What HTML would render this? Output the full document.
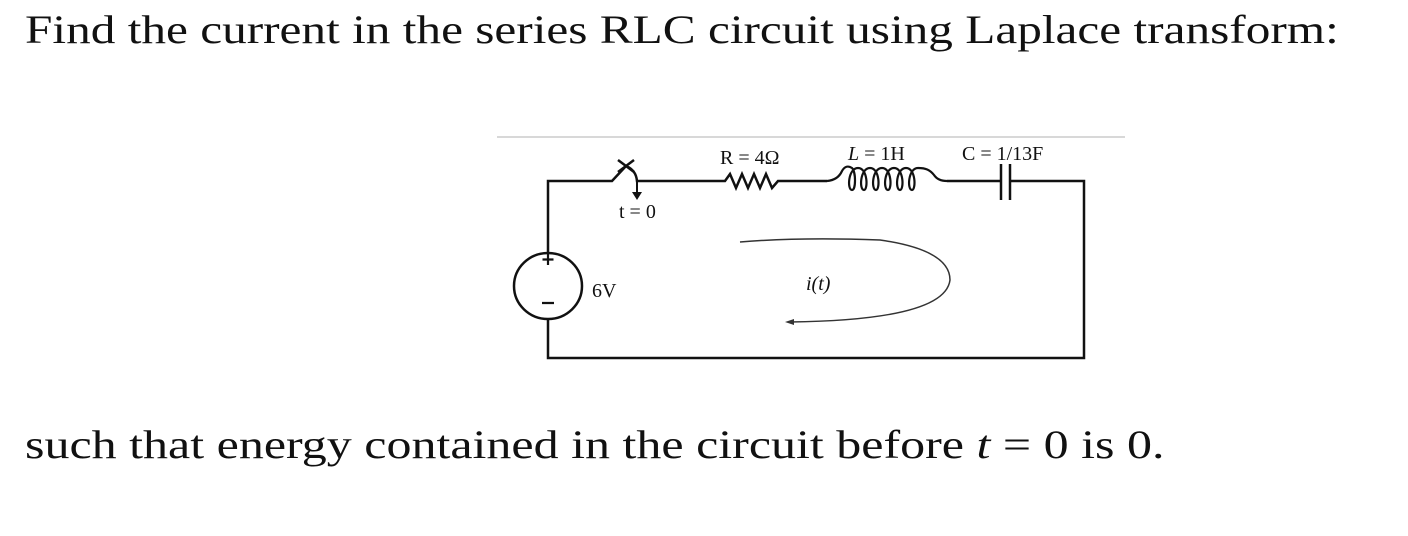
<!DOCTYPE html>
<html><head><meta charset="utf-8"><style>
body{margin:0;background:#fff;width:1408px;height:536px;overflow:hidden;position:relative;font-family:"Liberation Serif",serif;}
.t{position:absolute;left:25px;font-size:40px;color:#111;white-space:nowrap;transform-origin:0 0;}
</style></head><body>
<div class="t" style="top:6px;transform:scaleX(1.232)">Find the current in the series RLC circuit using Laplace transform:</div>
<div class="t" style="top:421px;transform:scaleX(1.25)">such that energy contained in the circuit before <i>t</i> = 0 is 0.</div>
<svg width="1408" height="536" style="position:absolute;left:0;top:0" font-family="Liberation Serif, serif">
<line x1="497" y1="137" x2="1125" y2="137" stroke="#ccc" stroke-width="1.5"/>
<g fill="none" stroke="#111" stroke-width="2.5">
<path d="M548 253 V181 H612 L626 166"/>
<path d="M618 160 L634 172 M618 172 L634 160"/>
<path d="M626 166 Q636 170 637 181 H725 L730 174 L736 188 L742 174 L748 188 L754 174 L760 188 L766 174 L772 188 L778 181 H827"/>
<line x1="637" y1="181" x2="637" y2="193" stroke-width="2"/>
<path d="M548 319 V358 H1084 V181 H1010 M1001 181 H947"/>
<line x1="1001" y1="164" x2="1001" y2="200"/>
<line x1="1010" y1="164" x2="1010" y2="200"/>
<ellipse cx="548" cy="286" rx="34" ry="33"/>
<path d="M548 254 V265 M542.5 259.5 H553.5 M542 303 H554" stroke-width="2.2"/>
</g>
<polygon points="632,192 642,192 637,200" fill="#111"/>
<g fill="none" stroke="#111" stroke-width="2.2">
<path d="M827 181 Q838 180 842 171 Q846 164 852 168 C856 172 856 190 852 190 C847 190 848 168 858 168 C868 168 868 190 864 190 C859 190 860 168 870 168 C880 168 880 190 876 190 C871 190 872 168 882 168 C892 168 892 190 888 190 C883 190 884 168 894 168 C904 168 904 190 900 190 C895 190 896 168 906 168 C916 168 916 190 912 190 C907 190 908 168 918 168 C926 168 930 170 934 175 Q938 181 947 181"/>
</g>
<path d="M740 242 Q800 237 880 240 Q950 250 950 280 Q945 320 790 322" fill="none" stroke="#333" stroke-width="1.5"/>
<polygon points="785,322 794,319 794,325" fill="#333"/>
<g fill="#111" font-size="20">
<text x="720" y="164">R = 4Ω</text>
<text x="848" y="160"><tspan font-style="italic">L</tspan> = 1H</text>
<text x="962" y="160">C = 1/13F</text>
<text x="619" y="218">t = 0</text>
<text x="592" y="297">6V</text>
<text x="806" y="290" font-style="italic">i(t)</text>
</g>
</svg>
</body></html>
